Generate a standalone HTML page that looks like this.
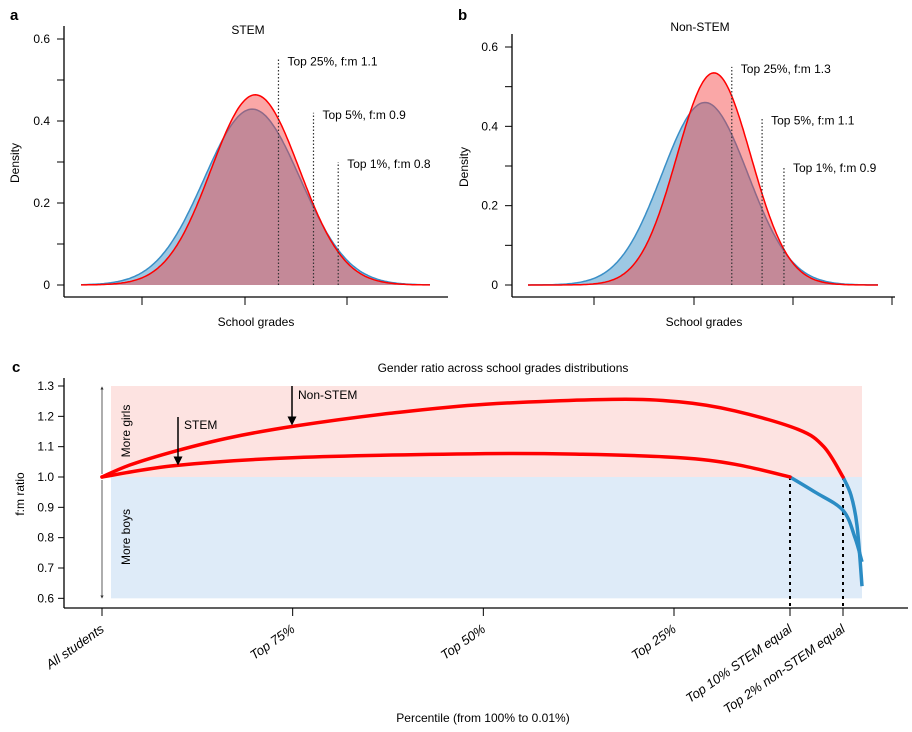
<!DOCTYPE html>
<html><head><meta charset="utf-8"><style>
body{margin:0;background:#fff;}
svg{display:block;font-family:"Liberation Sans",Arial,sans-serif;}
</style></head><body>
<svg id="chart" width="912" height="732" viewBox="0 0 912 732"></svg>
<script>
// ---- Panel a/b data: distribution parameters (grade units) ----
const panels = ['STEM', 'Non-STEM'];
const boysMean = [0.14, 0.22];
const boysSd = [0.93, 0.867];
const girlsMean = [0.2, 0.4];
const girlsSd = [0.86, 0.746];
const thresholdLabels = [['Top 25%, f:m 1.1','Top 5%, f:m 0.9','Top 1%, f:m 0.8'],['Top 25%, f:m 1.3','Top 5%, f:m 1.1','Top 1%, f:m 0.9']];
const thresholdGrades = [[0.65,1.33,1.81],[0.76,1.37,1.81]];
const thresholdHeights = [[0.55,0.42,0.3],[0.55,0.42,0.3]];
const densityTicks = [0,0.2,0.4,0.6];
// ---- Panel c data ----
const percentTicks = [100,75,50,25,10,2];
const percentTickLabels = ['All students','Top 75%','Top 50%','Top 25%','Top 10% STEM equal','Top 2% non-STEM equal'];
const ratioTicks = [0.6,0.7,0.8,0.9,1.0,1.1,1.2,1.3];
const nonStemP = [100,96.3,90.3,83.2,74.7,62.2,49.7,33.1,24.4,17.1,8.8,4.9,2,1.16,0.53,0.01];
const nonStemR = [1.0,1.04,1.086,1.13,1.168,1.21,1.24,1.256,1.248,1.218,1.157,1.10,1.0,0.94,0.84,0.64];
const stemP = [100,90.3,74.7,49.7,37,24.4,17.1,10,6.2,2,0.74,0.01];
const stemR = [1.0,1.038,1.064,1.077,1.075,1.064,1.042,1.0,0.95,0.89,0.8,0.72];

const NS='http://www.w3.org/2000/svg';
const svg=document.getElementById('chart');
function mk(tag,attrs,parent){const e=document.createElementNS(NS,tag);for(const k in attrs)e.setAttribute(k,attrs[k]);(parent||svg).appendChild(e);return e;}
function txt(s,attrs,parent){const e=mk('text',attrs,parent);e.textContent=s;return e;}
function smooth(pts){ // catmull-rom -> bezier
  let d='M'+pts[0][0].toFixed(1)+','+pts[0][1].toFixed(1);
  for(let i=0;i<pts.length-1;i++){
    const p0=pts[Math.max(0,i-1)],p1=pts[i],p2=pts[i+1],p3=pts[Math.min(pts.length-1,i+2)];
    const c1=[p1[0]+(p2[0]-p0[0])/6,p1[1]+(p2[1]-p0[1])/6],c2=[p2[0]-(p3[0]-p1[0])/6,p2[1]-(p3[1]-p1[1])/6];
    d+=` C${c1[0].toFixed(1)},${c1[1].toFixed(1)} ${c2[0].toFixed(1)},${c2[1].toFixed(1)} ${p2[0].toFixed(1)},${p2[1].toFixed(1)}`;
  }
  return d;
}

const geo=[{ax:64,zeroX:245,unit:51.5,y0:285,y6:39,x1:81,x2:430,xEnd:448,ticks:[142,245,347],letter:[10,20],title:[248,34]},
           {ax:512,zeroX:694,unit:49.7,y0:285,y6:47,x1:528,x2:878,xEnd:895,ticks:[594,694,793,892],letter:[458,20],title:[700,31]}];
function npdf(x,m,s){return Math.exp(-0.5*((x-m)/s)**2)/(s*Math.sqrt(2*Math.PI));}
panels.forEach((name,i)=>{
  const g=geo[i];
  const grp=mk('g',{});
  
  
  const xs=v=>g.zeroX+v*g.unit;
  const ys=d=>g.y0-(g.y0-g.y6)*d/0.6;
  const l=txt(i===0?'a':'b',{x:g.letter[0],y:g.letter[1],'font-size':15,'font-weight':'bold'},grp);
  
  const t=txt(name,{x:g.title[0],y:g.title[1],'font-size':12,'text-anchor':'middle'},grp);
  
  function curve(m,s){let pts=[];const a=(g.x1-g.zeroX)/g.unit,b=(g.x2-g.zeroX)/g.unit;for(let k=0;k<=200;k++){const v=a+(b-a)*k/200;pts.push(xs(v).toFixed(1)+','+ys(npdf(v,m,s)).toFixed(1));}return pts;}
  const bp=curve(boysMean[i],boysSd[i]), gp=curve(girlsMean[i],girlsSd[i]);
  const bf=mk('polygon',{points:bp.join(' ')+' '+g.x2+','+g.y0+' '+g.x1+','+g.y0,fill:'rgba(60,145,200,0.5)'},grp);
  
  const bl=mk('polyline',{points:bp.join(' '),fill:'none',stroke:'#3a8fc7','stroke-width':1.5},grp);
  
  const gf=mk('polygon',{points:gp.join(' ')+' '+g.x2+','+g.y0+' '+g.x1+','+g.y0,fill:'rgba(245,60,60,0.45)'},grp);
  
  const gl=mk('polyline',{points:gp.join(' '),fill:'none',stroke:'#ff0000','stroke-width':1.5},grp);
  
  thresholdGrades[i].forEach((v,j)=>{
    const x=xs(v);
    const dl=mk('line',{x1:x,x2:x,y1:g.y0,y2:ys(thresholdHeights[i][j]),stroke:'#333','stroke-width':1.2,'stroke-dasharray':'1.5,2'},grp);
    
    const tl=txt(thresholdLabels[i][j],{x:x+9,y:ys(thresholdHeights[i][j])+6,'font-size':12},grp);
    
  });
  const ya=mk('line',{x1:g.ax,x2:g.ax,y1:g.y6-13,y2:297,stroke:'#000','stroke-width':1.3},grp);
  
  for(let d=0;d<=0.61;d+=0.1){const y=ys(d);mk('line',{x1:g.ax-7,x2:g.ax,y1:y,y2:y,stroke:'#000'},grp);}
  densityTicks.forEach(d=>{const tt=txt(d===0?'0':d.toFixed(1),{x:g.ax-14,y:ys(d)+4,'font-size':12,'text-anchor':'end'},grp);
    });
  const xa=mk('line',{x1:g.ax,x2:g.xEnd,y1:297,y2:297,stroke:'#000','stroke-width':1.3},grp);
  
  g.ticks.forEach(x=>mk('line',{x1:x,x2:x,y1:297,y2:305,stroke:'#000'},grp));
  const xt=txt('School grades',{x:i===0?256:704,y:326,'font-size':12,'text-anchor':'middle'},grp);
  
  const yt=txt('Density',{x:0,y:0,'font-size':12,'text-anchor':'middle',transform:`translate(${i===0?19:468},${i===0?163:167}) rotate(-90)`},grp);
  
});

// ---- Panel c ----
const pc=mk('g',{});


const pDom=[100,25,10,2,0.01], pRng=[102,674,790,843,862];
function px(p){for(let k=0;k<pDom.length-1;k++){if(p<=pDom[k]&&p>=pDom[k+1]){return pRng[k]+(pDom[k]-p)/(pDom[k]-pDom[k+1])*(pRng[k+1]-pRng[k]);}}return p>100?102:862;}
function ry(r){return 477-(r-1.0)*303.3;}
const pink=mk('rect',{x:111,y:ry(1.3),width:751,height:ry(1.0)-ry(1.3),fill:'#fde3e1'},pc);

const blue=mk('rect',{x:111,y:ry(1.0),width:751,height:ry(0.6)-ry(1.0),fill:'#deebf8'},pc);

const cl=txt('c',{x:12,y:372,'font-size':15,'font-weight':'bold'},pc);

const ct=txt('Gender ratio across school grades distributions',{x:503,y:372,'font-size':12,'text-anchor':'middle'},pc);

const cya=mk('line',{x1:64,x2:64,y1:378,y2:608,stroke:'#000','stroke-width':1.3},pc);

ratioTicks.forEach(r=>{const y=ry(r);mk('line',{x1:58,x2:64,y1:y,y2:y,stroke:'#000'},pc);
  const tt=txt(r.toFixed(1),{x:54,y:y+4,'font-size':12,'text-anchor':'end'},pc);
  });
const cxa=mk('line',{x1:64,x2:908,y1:608,y2:608,stroke:'#000','stroke-width':1.3},pc);

percentTicks.forEach((p,k)=>{const x=px(p);mk('line',{x1:x,x2:x,y1:608,y2:616,stroke:'#000'},pc);
  const tt=txt(percentTickLabels[k],{x:0,y:0,'font-size':13,'font-style':'italic','text-anchor':'end',transform:`translate(${x+3},${631}) rotate(-35)`},pc);
  });
const cyt=txt('f:m ratio',{x:0,y:0,'font-size':12,'text-anchor':'middle',transform:'translate(24,494) rotate(-90)'},pc);

const cxt=txt('Percentile (from 100% to 0.01%)',{x:483,y:722,'font-size':12,'text-anchor':'middle'},pc);

mk('defs',{},pc).innerHTML='<marker id="ah" markerWidth="6" markerHeight="6" refX="3" refY="3" orient="auto"><path d="M0,0 L6,3 L0,6 z" fill="#000"/></marker><marker id="ahs" markerWidth="4" markerHeight="4" refX="2" refY="2" orient="auto"><path d="M0,0 L4,2 L0,4 z" fill="#333"/></marker>';
const a1=mk('line',{x1:102,x2:102,y1:474,y2:388,stroke:'#333','stroke-width':0.8,'marker-end':'url(#ahs)'},pc);

const a2=mk('line',{x1:102,x2:102,y1:480,y2:597,stroke:'#333','stroke-width':0.8,'marker-end':'url(#ahs)'},pc);

const mg=txt('More girls',{x:0,y:0,'font-size':12,'text-anchor':'middle',transform:'translate(130,431) rotate(-90)'},pc);

const mb=txt('More boys',{x:0,y:0,'font-size':12,'text-anchor':'middle',transform:'translate(130,537) rotate(-90)'},pc);

[10,2].forEach(p=>{const d=mk('line',{x1:px(p),x2:px(p),y1:ry(1.0),y2:608,stroke:'#000','stroke-width':2,'stroke-dasharray':'3,4'},pc);
  });
function drawSeries(P,R,name){
  let cross=R.findIndex((r,k)=>k>0&&r<1);
  let above=[],below=[];
  P.forEach((p,k)=>{const pt=[px(p),ry(R[k])];if(k<cross)above.push(pt);if(k>=cross-1)below.push(pt);});
  const b=mk('path',{d:smooth(below),fill:'none',stroke:'#2b8cc4','stroke-width':3.5,'stroke-linejoin':'round'},pc);
  
  const r=mk('path',{d:smooth(above),fill:'none',stroke:'#ff0000','stroke-width':3.5,'stroke-linejoin':'round','stroke-linecap':'round'},pc);
  
}
drawSeries(nonStemP,nonStemR,'non-stem');
drawSeries(stemP,stemR,'stem');
const na=mk('line',{x1:292,x2:292,y1:386,y2:421,stroke:'#000','stroke-width':1.5,'marker-end':'url(#ah)'},pc);

const nl=txt('Non-STEM',{x:298,y:399,'font-size':12},pc);

const sa=mk('line',{x1:178,x2:178,y1:417,y2:461,stroke:'#000','stroke-width':1.5,'marker-end':'url(#ah)'},pc);

const sl=txt('STEM',{x:184,y:429,'font-size':12},pc);

</script>
</body></html>
